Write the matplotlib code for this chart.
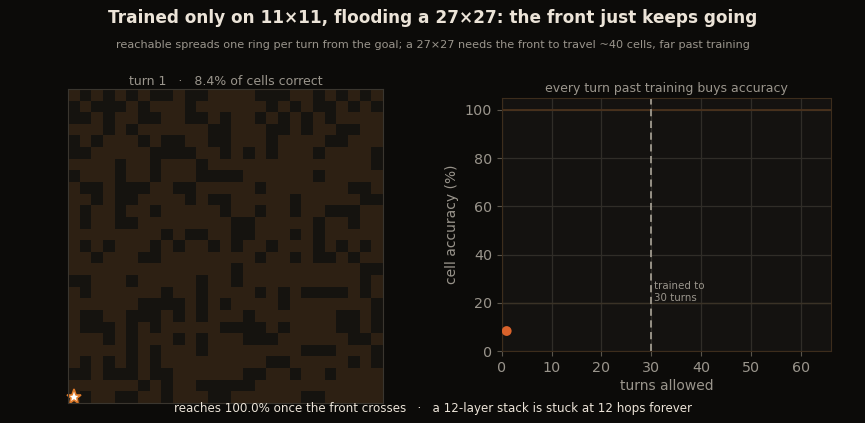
import numpy as np
import matplotlib
matplotlib.use("Agg")
import matplotlib.pyplot as plt
from matplotlib.colors import ListedColormap

# wall cells per row of the 27x27 maze (row 0 = top)
wall_rows = [
    [1, 3, 5, 7, 8, 10, 11, 16, 17, 18, 21, 23, 25],
    [0, 2, 3, 4, 6, 10, 17, 19, 21, 22, 24, 26],
    [0, 1, 3, 6, 7, 10, 11, 13, 16, 18, 20, 22],
    [3, 5, 12, 13, 17, 18, 20, 23, 24],
    [0, 2, 6, 8, 9, 12, 13, 17, 22, 23],
    [0, 1, 7, 8, 9, 10, 13, 15, 17, 21, 26],
    [4, 7, 11, 26],
    [0, 4, 7, 11, 12, 13, 14, 21],
    [1, 2, 4, 5, 6, 9, 10, 16, 24, 25],
    [2, 4, 5, 10, 12, 13, 19, 25, 26],
    [1, 4, 7, 13, 16, 19, 22, 23, 24],
    [1, 4, 5, 14, 15, 21, 24],
    [8, 10, 11, 14, 15, 19, 21],
    [1, 3, 7, 9, 12, 14, 17, 21, 23, 25],
    [2, 6, 7, 16, 19, 21, 22, 24],
    [14, 25, 26],
    [0, 1, 5, 11, 14, 25],
    [1, 8, 11, 16, 18, 20, 21, 22, 23, 25],
    [6, 7, 8, 9, 11, 13, 18, 26],
    [1, 2, 5, 6, 7, 9, 11, 15, 23, 24, 26],
    [1, 2, 3, 5, 7, 13, 14, 15, 16, 18, 23, 24, 26],
    [3, 5, 9, 11, 15, 16, 17, 24, 25],
    [5, 7, 11, 20, 21, 22, 26],
    [1, 3, 5, 7, 17, 18, 24, 26],
    [0, 1, 3, 4, 5, 7, 8, 15, 16, 19, 22],
    [6, 8, 11, 12, 13, 14, 15],
    [1, 4, 5, 8, 12, 13, 20, 21],
]
goal = (26, 0)  # row, col

turns = [1]
accuracy = [8.4]
trained_turns = 30

BG = "#0c0b09"
AX_BG = "#141210"
CREAM = "#ece4d8"
GREY = "#9a958c"
ORANGE = "#d9622b"

n = len(wall_rows)
grid = np.zeros((n, n))
for r, cols in enumerate(wall_rows):
    grid[r, cols] = 1

fig = plt.figure(figsize=(8.65, 4.23), dpi=100, facecolor=BG)

fig.text(0.5, 0.957, "Trained only on 11×11, flooding a 27×27: the front just keeps going",
         ha="center", va="center", fontsize=12.2, fontweight="bold", color=CREAM)
fig.text(0.5, 0.894, "reachable spreads one ring per turn from the goal; a 27×27 needs the front to travel ~40 cells, far past training",
         ha="center", va="center", fontsize=8.1, color=GREY)

# maze panel
ax1 = fig.add_axes([0.0786, 0.048, 0.3638, 0.741])
ax1.imshow(grid, cmap=ListedColormap(["#2d2013", "#15130f"]), vmin=0, vmax=1,
           interpolation="nearest", aspect="auto")
ax1.plot(goal[1], goal[0], marker="*", markersize=11, color="white",
         markeredgecolor="#e07b2a", markeredgewidth=1.2, clip_on=False)
ax1.set_xticks([])
ax1.set_yticks([])
for s in ax1.spines.values():
    s.set_color("#3a362f")
ax1.set_title("turn 1   ·   8.4% of cells correct", color=GREY, fontsize=9, pad=3)

# accuracy panel
ax2 = fig.add_axes([0.580, 0.1695, 0.3807, 0.5995], facecolor=AX_BG)
ax2.grid(True, color="#302d28", linewidth=0.9)
ax2.set_axisbelow(True)
ax2.axhline(100, color="#4b321c", linewidth=1.3, zorder=1)
ax2.axhline(20, color="#3a3226", linewidth=1.0, zorder=1)
ax2.axvline(trained_turns, color="#a09a8f", linestyle="--", linewidth=1.3, dashes=(4, 2.5))
ax2.text(trained_turns + 0.5, 29, "trained to\n30 turns", color=GREY, fontsize=7.4,
         va="top", ha="left", linespacing=1.2)
ax2.scatter(turns, accuracy, s=50, color=ORANGE, zorder=3, edgecolors="none")
ax2.set_xlim(0, 66)
ax2.set_ylim(0, 105)
ax2.set_xticks(range(0, 61, 10))
ax2.set_yticks(range(0, 101, 20))
ax2.tick_params(colors=GREY, labelsize=10.3, length=3.5, color="#5a554c")
for s in ax2.spines.values():
    s.set_color("#3d2d1c")
ax2.set_xlabel("turns allowed", color=GREY, fontsize=10, labelpad=3)
ax2.set_ylabel("cell accuracy (%)", color=GREY, fontsize=10)
ax2.set_title("every turn past training buys accuracy", color=GREY, fontsize=9, pad=4)

fig.text(0.5, 0.035, "reaches 100.0% once the front crosses   ·   a 12-layer stack is stuck at 12 hops forever",
         ha="center", va="center", fontsize=8.6, color=CREAM)

fig.savefig("out.png", dpi=100, facecolor=BG)
